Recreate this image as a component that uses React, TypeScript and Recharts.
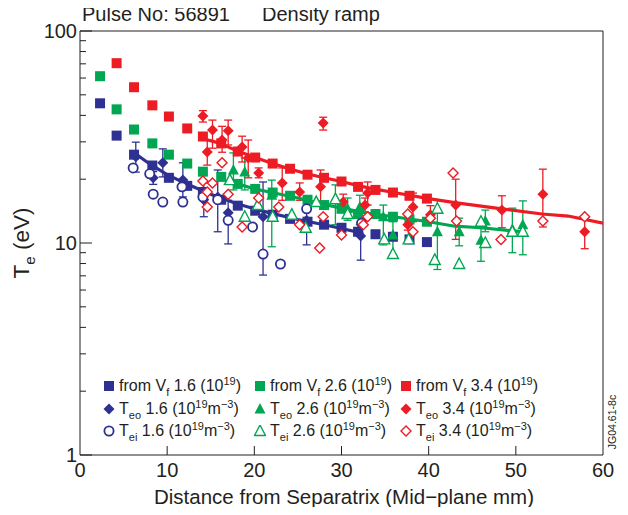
import React from 'react';
import { ComposedChart, ErrorBar, ReferenceLine, Scatter, XAxis, YAxis } from 'recharts';

const BLUE = '#2e3192';
const GREEN = '#00a651';
const RED = '#ed1c24';
const INK = '#231f20';
const FONT = '"Liberation Sans", Arial, Helvetica, sans-serif';

const X_TICKS = [0, 10, 20, 30, 40, 50, 60];
const Y_TICKS = [1, 2, 3, 4, 5, 6, 7, 8, 9, 10, 20, 30, 40, 50, 60, 70, 80, 90, 100];
const Y_LABELLED = [1, 10, 100];

// Te from floating potential, every ~2 mm
const VF_X = [2.3, 4.2, 6.2, 8.3, 10.2, 12.3, 14.1, 16.2, 18.1, 20.1, 22.1, 24.1, 26.1, 28.0, 30.0, 31.9, 33.9, 35.9, 37.8, 39.8];
const VF_16 = [45.6, 32.1, 26.1, 23.2, 20.3, 18.6, 17.4, 16.0, 15.0, 14.2, 13.6, 13.0, 12.6, 12.2, 11.8, 11.3, 11.0, 10.7, 10.4, 10.1];
const VF_26 = [61.2, 42.7, 34.3, 29.5, 26.1, 23.7, 21.7, 20.5, 19.0, 18.0, 17.3, 16.7, 16.0, 15.1, 14.5, 13.7, 13.7, 13.3, 12.9, 12.6];
const VF_34 = [null, 70.5, 54.3, 44.6, 39.5, 34.7, 31.8, 29.5, 27.0, 25.3, 23.7, 22.4, 21.0, 20.3, 19.5, 18.4, 17.8, 17.3, 16.7, 16.2];

// fitted curves
const LINE16_X = [6, 8, 10, 12, 15, 18, 20, 22, 25, 28, 30, 32.5];
const LINE16_Y = [27.0, 23.6, 21.0, 19.2, 17.0, 15.3, 14.5, 13.8, 12.9, 12.2, 11.7, 11.1];
const LINE26_X = [17, 20, 22, 25, 28, 30, 33, 36, 40, 43, 46, 50.8];
const LINE26_Y = [19.6, 18.0, 17.3, 16.3, 15.2, 14.6, 13.8, 13.3, 12.6, 12.0, 11.8, 11.3];
const LINE34_X = [13.8, 16, 18, 20, 22, 24, 26, 28, 30, 32, 34, 36, 40, 43, 48.4, 53, 56, 60];
const LINE34_Y = [31.3, 29.6, 27.2, 25.4, 23.8, 22.4, 21.2, 20.3, 19.5, 18.6, 17.9, 17.3, 16.2, 15.5, 14.5, 13.7, 13.4, 12.4];

// Teo (outer probe) with error bar ends
const TEO16_X = [6.4, 8.4, 9.5, 11.8, 14.2, 15.8, 17.0, 21.0, 26.0, 32.2];
const TEO16_Y = [25.5, 20.3, 23.9, 19.8, 16.0, 16.5, 13.9, 13.3, 12.8, 10.8];
const TEO16_LO = [21.6, 18.9, 20.5, 16.5, 13.3, 11.3, 9.9, 7.06, 9.8, 8.3];
const TEO16_HI = [29.9, 21.7, 27.8, 23.9, 19.2, 22.1, 15.9, 19.4, 14.8, 12.4];

const TEO26_X = [17.6, 18.9, 22.0, 29.3, 30.7, 32.1, 34.8, 35.9, 41.0, 43.5, 46.0, 46.5, 49.6, 50.8];
const TEO26_Y = [22.1, 21.6, 16.8, 16.0, 14.5, 14.8, 13.3, 10.9, 11.3, 11.3, 10.3, 12.7, 11.6, 12.2];
const TEO26_LO = [17.8, 17.8, 9.6, 12.2, 12.8, 12.2, 9.8, 8.6, 7.5, 9.7, 8.2, 11.3, 9.0, 8.8];
const TEO26_HI = [26.6, 25.2, 19.8, 18.8, 16.3, 16.8, 15.1, 12.6, 16.0, 13.1, 12.6, 14.3, 14.6, 15.8];

const TEO34_X = [14.1, 15.2, 16.3, 17.0, 14.6, 18.6, 19.3, 20.5, 23.2, 25.2, 27.9, 27.6, 30.2, 33.0, 32.7, 37.6, 38.2, 40.2, 43.1, 48.4, 53.1, 57.9];
const TEO34_Y = [39.7, 34.1, 30.6, 33.8, 26.9, 28.4, 25.2, 21.4, 19.2, 17.4, 36.8, 18.4, 15.6, 17.2, 15.1, 12.2, 14.8, 13.6, 15.1, 14.3, 17.0, 11.3];
const TEO34_LO = [37.2, 28.0, 26.8, 29.0, 23.3, 24.1, 20.3, 20.3, 15.9, 15.9, 34.1, 15.1, 14.3, 15.1, 14.0, 11.5, 12.6, 12.4, 10.4, 11.8, 11.9, 9.4];
const TEO34_HI = [42.1, 38.0, 35.5, 38.0, 30.6, 31.9, 30.6, 22.6, 22.6, 19.2, 39.2, 22.1, 17.0, 19.4, 16.3, 13.0, 17.2, 15.0, 20.0, 16.7, 22.3, 13.3];

// Tei (inner probe)
const TEI16_X = [6.1, 8.0, 8.4, 9.5, 11.8, 11.7, 14.1, 15.8, 17.0, 19.8, 21.0, 23.0, 26.0, 32.3];
const TEI16_Y = [22.6, 21.2, 17.0, 15.6, 15.6, 18.4, 16.5, 16.0, 12.8, 11.9, 8.87, 7.96, 14.5, 12.4];

const TEI26_X = [17.2, 18.9, 20.4, 22.1, 24.3, 25.9, 27.1, 29.3, 30.7, 34.9, 35.9, 37.7, 41.0, 40.7, 43.5, 46.0, 46.5, 49.6, 50.8];
const TEI26_Y = [19.8, 13.3, 15.1, 13.3, 13.6, 11.8, 15.6, 16.1, 13.7, 10.4, 8.87, 10.4, 14.5, 8.32, 7.96, 12.6, 10.0, 11.3, 11.3];

const TEI34_X = [16.3, 14.1, 15.2, 14.6, 17.0, 14.6, 18.6, 20.5, 22.8, 25.2, 27.9, 27.5, 30.0, 33.0, 32.5, 37.6, 38.2, 40.2, 42.8, 43.2, 48.3, 53.1, 57.9];
const TEI34_Y = [23.9, 19.6, 19.2, 17.4, 17.0, 14.8, 11.9, 16.3, 14.8, 12.2, 13.3, 9.47, 10.9, 13.3, 12.2, 13.7, 11.3, 13.1, 21.4, 12.7, 10.4, 12.7, 13.3];

const pts = (xs: number[], ys: (number | null)[]) =>
  xs.map((x, i) => ({ x, y: ys[i] })).filter((d) => d.y != null);

const withErr = (xs: number[], ys: number[], lo: number[], hi: number[]) =>
  xs.map((x, i) => ({ x, y: ys[i], err: [ys[i] - lo[i], hi[i] - ys[i]] }));

type P = { cx?: number; cy?: number };

const square = (c: string) => ({ cx = 0, cy = 0 }: P) => (
  <rect x={cx - 5} y={cy - 5} width={10} height={10} fill={c} />
);
const diamond = (c: string, open: boolean) => ({ cx = 0, cy = 0 }: P) => {
  const r = open ? 5 : 5.5;
  return (
    <polygon
      points={`${cx},${cy - r} ${cx + r},${cy} ${cx},${cy + r} ${cx - r},${cy}`}
      fill={open ? '#fff' : c}
      stroke={c}
      strokeWidth={open ? 1.4 : 0}
    />
  );
};
const triangle = (c: string, open: boolean) => ({ cx = 0, cy = 0 }: P) => (
  <polygon
    points={`${cx},${cy - 6} ${cx + 5.5},${cy + 4.5} ${cx - 5.5},${cy + 4.5}`}
    fill={open ? '#fff' : c}
    stroke={c}
    strokeWidth={open ? 1.4 : 0}
  />
);
const ring = (c: string) => ({ cx = 0, cy = 0 }: P) => (
  <circle cx={cx} cy={cy} r={4.6} fill="#fff" stroke={c} strokeWidth={1.8} />
);
const none = () => <g />;

const XTick = ({ x, y, payload }: any) => {
  const v = payload.value;
  return (
    <g>
      {v > 0 && v < 60 && <line x1={x} x2={x} y1={y} y2={y - 9} stroke={INK} strokeWidth={1} />}
      <text x={x} y={y + 22} textAnchor="middle" fontSize={20} fill={INK} fontFamily={FONT}>
        {v}
      </text>
    </g>
  );
};

const YTick = ({ x, y, payload }: any) => {
  const v = payload.value;
  const major = Y_LABELLED.includes(v);
  return (
    <g>
      <line x1={x} x2={x + (major ? 12 : 6)} y1={y} y2={y} stroke={INK} strokeWidth={1} />
      {major && (
        <text x={x - 3} y={y + 7} textAnchor="end" fontSize={20} fill={INK} fontFamily={FONT}>
          {v}
        </text>
      )}
    </g>
  );
};

const LegendMark = ({ kind, color }: { kind: string; color: string }) => {
  const s = { square: square, dia: (c: string) => diamond(c, false), tri: (c: string) => triangle(c, false), ring: ring, odia: (c: string) => diamond(c, true), otri: (c: string) => triangle(c, true) } as any;
  const Shape = s[kind](color);
  return (
    <svg width={12} height={12} style={{ display: 'block', marginRight: 4 }}>
      <Shape cx={6} cy={6} />
    </svg>
  );
};

const DENS = ['1.6', '2.6', '3.4'];
const LEG_COLORS = [BLUE, GREEN, RED];
const LEG_X = [103, 254, 400];
const LEG_Y = [381, 404, 426];

export default function App() {
  const teoShapes = [diamond(BLUE, false), triangle(GREEN, false), diamond(RED, false)];
  return (
    <div style={{ position: 'relative', width: 628, height: 515, margin: -8, fontFamily: FONT, color: INK, background: '#fff' }}>
      <ComposedChart width={628} height={515} margin={{ top: 31, right: 25, bottom: 30, left: 20 }}>
        <XAxis
          type="number"
          dataKey="x"
          domain={[0, 60]}
          ticks={X_TICKS}
          interval={0}
          height={30}
          tickSize={0}
          tickMargin={0}
          tickLine={false}
          axisLine={{ stroke: INK }}
          tick={(p: any) => <XTick {...p} />}
          allowDataOverflow
        />
        <YAxis
          type="number"
          dataKey="y"
          scale="log"
          domain={[1, 100]}
          ticks={Y_TICKS}
          interval={0}
          width={60}
          tickSize={0}
          tickMargin={0}
          tickLine={false}
          axisLine={{ stroke: INK }}
          tick={(p: any) => <YTick {...p} />}
          allowDataOverflow
        />
        <ReferenceLine y={100} stroke={INK} />
        <ReferenceLine x={60} stroke={INK} />

        <Scatter data={pts(VF_X, VF_16)} shape={square(BLUE)} isAnimationActive={false} />
        <Scatter data={pts(VF_X, VF_26)} shape={square(GREEN)} isAnimationActive={false} />
        <Scatter data={pts(VF_X, VF_34)} shape={square(RED)} isAnimationActive={false} />

        <Scatter data={pts(LINE16_X, LINE16_Y)} shape={none} line={{ stroke: BLUE, strokeWidth: 3.2 }} lineType="joint" fill={BLUE} isAnimationActive={false} />
        <Scatter data={pts(LINE26_X, LINE26_Y)} shape={none} line={{ stroke: GREEN, strokeWidth: 3.2 }} lineType="joint" fill={GREEN} isAnimationActive={false} />
        <Scatter data={pts(LINE34_X, LINE34_Y)} shape={none} line={{ stroke: RED, strokeWidth: 3.2 }} lineType="joint" fill={RED} isAnimationActive={false} />

        <Scatter data={withErr(TEO16_X, TEO16_Y, TEO16_LO, TEO16_HI)} shape={teoShapes[0]} isAnimationActive={false}>
          <ErrorBar dataKey="err" direction="y" width={4} stroke={BLUE} strokeWidth={1.3} isAnimationActive={false} />
        </Scatter>
        <Scatter data={withErr(TEO26_X, TEO26_Y, TEO26_LO, TEO26_HI)} shape={teoShapes[1]} isAnimationActive={false}>
          <ErrorBar dataKey="err" direction="y" width={4} stroke={GREEN} strokeWidth={1.3} isAnimationActive={false} />
        </Scatter>
        <Scatter data={withErr(TEO34_X, TEO34_Y, TEO34_LO, TEO34_HI)} shape={teoShapes[2]} isAnimationActive={false}>
          <ErrorBar dataKey="err" direction="y" width={4} stroke={RED} strokeWidth={1.3} isAnimationActive={false} />
        </Scatter>

        <Scatter data={pts(TEI16_X, TEI16_Y)} shape={ring(BLUE)} isAnimationActive={false} />
        <Scatter data={pts(TEI26_X, TEI26_Y)} shape={triangle(GREEN, true)} isAnimationActive={false} />
        <Scatter data={pts(TEI34_X, TEI34_Y)} shape={diamond(RED, true)} isAnimationActive={false} />
      </ComposedChart>

      <div style={{ position: 'absolute', left: 82, top: 2, fontSize: 20, lineHeight: '24px' }}>Pulse No: 56891</div>
      <div style={{ position: 'absolute', left: 262, top: 2, fontSize: 20, lineHeight: '24px' }}>Density ramp</div>

      <div style={{ position: 'absolute', left: -28, top: 230, width: 100, height: 26, lineHeight: '26px', textAlign: 'center', fontSize: 22.5, transform: 'rotate(-90deg)' }}>
        T<sub style={{ fontSize: 15 }}>e</sub> (eV)
      </div>
      <div style={{ position: 'absolute', left: 44, top: 485, width: 600, textAlign: 'center', fontSize: 20.5, lineHeight: '24px' }}>
        Distance from Separatrix (Mid−plane mm)
      </div>
      <div style={{ position: 'absolute', left: 572, top: 415, width: 80, height: 14, lineHeight: '14px', textAlign: 'center', fontSize: 10.5, transform: 'rotate(-90deg)' }}>
        JG04.61-8c
      </div>

      {DENS.map((d, i) => (
        <React.Fragment key={d}>
          <div style={{ position: 'absolute', left: LEG_X[i], top: LEG_Y[0] - 11, display: 'flex', alignItems: 'center', fontSize: 16, lineHeight: '22px', whiteSpace: 'nowrap' }}>
            <LegendMark kind="square" color={LEG_COLORS[i]} />
            <span>from V<sub style={{ fontSize: 11 }}>f</sub> {d} (10<sup style={{ fontSize: 11 }}>19</sup>)</span>
          </div>
          <div style={{ position: 'absolute', left: LEG_X[i], top: LEG_Y[1] - 11, display: 'flex', alignItems: 'center', fontSize: 16, lineHeight: '22px', whiteSpace: 'nowrap' }}>
            <LegendMark kind={i === 1 ? 'tri' : 'dia'} color={LEG_COLORS[i]} />
            <span>T<sub style={{ fontSize: 11 }}>eo</sub> {d} (10<sup style={{ fontSize: 11 }}>19</sup>m<sup style={{ fontSize: 11 }}>−3</sup>)</span>
          </div>
          <div style={{ position: 'absolute', left: LEG_X[i], top: LEG_Y[2] - 11, display: 'flex', alignItems: 'center', fontSize: 16, lineHeight: '22px', whiteSpace: 'nowrap' }}>
            <LegendMark kind={['ring', 'otri', 'odia'][i]} color={LEG_COLORS[i]} />
            <span>T<sub style={{ fontSize: 11 }}>ei</sub> {d} (10<sup style={{ fontSize: 11 }}>19</sup>m<sup style={{ fontSize: 11 }}>−3</sup>)</span>
          </div>
        </React.Fragment>
      ))}
    </div>
  );
}
